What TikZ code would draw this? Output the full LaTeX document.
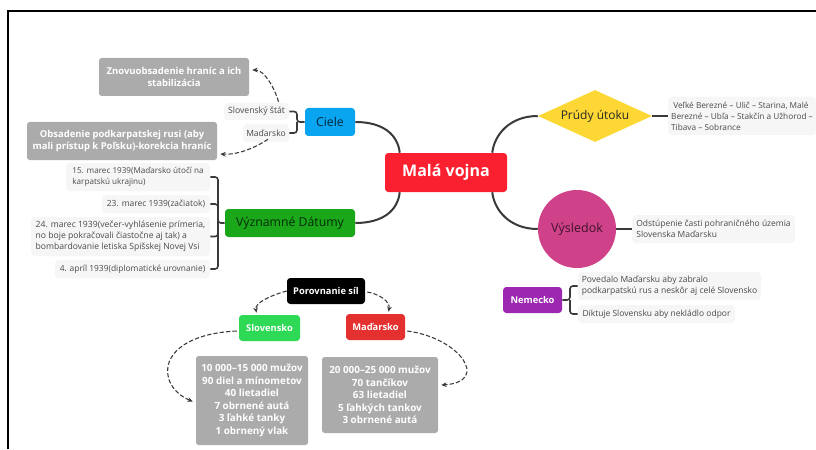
\documentclass[tikz,border=0pt]{standalone}
\usepackage{fontspec}
\setmainfont{Open Sans}
\usetikzlibrary{shapes.geometric,arrows.meta,calc}
\definecolor{cblue}{HTML}{0AA5F0}
\definecolor{cred}{HTML}{FA2030}
\definecolor{cgreen}{HTML}{1AA81A}
\definecolor{cyel}{HTML}{FDD835}
\definecolor{cpink}{HTML}{CF4289}
\definecolor{cpurp}{HTML}{9C27B0}
\definecolor{cgrn}{HTML}{2DD955}
\definecolor{cmad}{HTML}{E53030}
\definecolor{cgray}{HTML}{ABABAB}
\definecolor{clight}{HTML}{F6F6F6}
\definecolor{ctxt}{HTML}{4A4A4A}
\definecolor{cline}{HTML}{3A3A3A}
\tikzset{
  sz/.style 2 args={minimum width=#1*0.75pt,minimum height=#2*0.75pt,inner sep=0pt},
  lbox/.style={fill=clight,rounded corners=3pt,text=ctxt,font=\fontsize{#1}{8.2}\selectfont,align=left},
  gbox/.style={fill=cgray,rounded corners=2pt,text=white,font=\fontsize{#1}{9.4}\selectfont\bfseries,align=center},
  topic/.style={rounded corners=2.5pt,text=#1,font=\fontsize{9.2}{10}\selectfont},
  small/.style={rounded corners=2.5pt,text=white,font=\fontsize{7}{8}\selectfont\bfseries},
  conn/.style={line width=1.5pt,draw=cline},
  brack/.style={line width=1.2pt,draw=cline,rounded corners=2.2pt},
  dashlink/.style={line width=0.8pt,draw=cline,dash pattern=on 3.2pt off 1.6pt,-{Stealth[length=4pt,width=3.5pt]}}
}
\begin{document}
\begin{tikzpicture}[x=0.75pt,y=-0.75pt]
\useasboundingbox (0,0) rectangle (816,449);
\fill[white] (0,0) rectangle (816,449);
\draw[black,line width=1.5pt] (8,449) -- (8,11.5) -- (816,11.5);
% nodes
\node[sz={122}{39},fill=cred,rounded corners=2.5pt,text=white,font=\fontsize{12}{14}\selectfont\bfseries] (main) at (446,172.5) {Malá vojna};
\node[topic={black!75!cblue},sz={50}{28},fill=cblue] (ciele) at (330,122) {Ciele};
\node[topic={black!75!cgreen},sz={130}{28},fill=cgreen] (vyz) at (290,223) {Významné Dátumy};
\node[diamond,aspect=2.2,fill=cyel,sz={114}{52},text=black!85,font=\fontsize{9}{10}\selectfont] (prudy) at (595,116) {Prúdy útoku};
\node[circle,fill=cpink,minimum size=58.5pt,inner sep=0pt,text=black!70!cpink,font=\fontsize{9.4}{10}\selectfont] (vys) at (577,229) {Výsledok};
\node[gbox=7.1,sz={150}{38}] (zn) at (174,77) {Znovuobsadenie hraníc a ich\\stabilizácia};
\node[gbox=7.1,sz={190}{38}] (ob) at (122,141) {Obsadenie podkarpatskej rusi (aby\\mali prístup k Poľsku)-korekcia hraníc};
\node[lbox=6.5,sz={65}{17}] (sl) at (256.5,111.5) {Slovenský štát};
\node[lbox=6.4,sz={46}{18}] (ma) at (266,133) {Maďarsko};
\node[lbox=6.1,sz={144}{28}] (d1) at (138,177) {15. marec 1939(Maďarsko útočí na\\karpatskú ukrajinu)};
\node[lbox=6.35,sz={108}{18}] (d2) at (156,204) {23. marec 1939(začiatok)};
\node[lbox=6.45,sz={179}{39}] (d3) at (120.5,236.5) {24. marec 1939(večer-vyhlásenie prímeria,\\no boje pokračovali čiastočne aj tak) a\\bombardovanie letiska Spišskej Novej Vsi};
\node[lbox=6.3,sz={155}{18}] (d4) at (132.5,269) {4. apríl 1939(diplomatické urovnanie)};
\node[lbox=6.2,sz={148}{38}] (pt) at (742,116) {\ Veľké Berezné – Ulič – Starina, Malé\\Berezné – Ubľa – Stakčín a Užhorod –\\Tibava – Sobrance};
\node[lbox=6.35,sz={163}{28}] (od) at (713.5,229) {Odstúpenie časti pohraničného územia\\Slovenska Maďarsku};
\node[small,sz={59}{26},fill=cpurp] (nem) at (532.5,300) {Nemecko};
\node[lbox=6.4,sz={183}{28}] (po) at (669.5,286) {Povedalo Maďarsku aby zabralo\\podkarpatskú rus a neskôr aj celé Slovensko};
\node[lbox=6.35,sz={157}{18}] (di) at (656.5,314) {Diktuje Slovensku aby nekládlo odpor};
\node[small,sz={78}{26},fill=black] (por) at (326,291) {Porovnanie síl};
\node[small,sz={61}{26},fill=cgrn] (slo) at (269.5,328) {Slovensko};
\node[small,sz={59}{26},fill=cmad] (mad) at (375.5,327) {Maďarsko};
\node[gbox=7.4,sz={112}{89}] (gl) at (252,400.5) {10 000–15 000 mužov\\90 diel a mínometov\\40 lietadiel\\7 obrnené autá\\3 ľahké tanky\\1 obrnený vlak};
\node[gbox=7.4,sz={116}{76}] (gr) at (380,395) {20 000–25 000 mužov\\70 tančíkov\\63 lietadiel\\5 ľahkých tankov\\3 obrnené autá};
% main branches
\draw[conn] (ciele.east) .. controls +(28,0) and +(-2,-18) .. ($(main.north west)+(15,0)$);
\draw[conn] (vyz.east) .. controls +(28,0) and +(-2,18) .. ($(main.south west)+(15,0)$);
\draw[conn] (prudy.west) .. controls +(-28,0) and +(2,-18) .. ($(main.north east)+(-15,0)$);
\draw[conn] (vys.west) .. controls +(-28,0) and +(2,18) .. ($(main.south east)+(-15,0)$);
% leaf links
\draw[conn] (prudy.east) -- (pt.west);
\draw[conn] (vys.east) -- (od.west);
\coordinate (cj) at (297,122);
\draw[brack] (ciele.west) -- (cj) |- (sl.east);
\draw[brack] (cj) |- (ma.east);
\coordinate (dj) at (218,223);
\draw[brack] (vyz.west) -- (dj) |- (d1.east);
\draw[brack] (dj) |- (d4.east);
\draw[brack] (dj) |- (d2.east);
\draw[brack] (dj) |- (d3.east);
\coordinate (nj) at (570,300);
\draw[brack] (nem.east) -- (nj) |- (po.west);
\draw[brack] (nj) |- (di.west);
% dashed
\draw[dashlink] ($(sl.north)+(22,-1)$) .. controls +(-4,-14) and +(12,0) .. ($(zn.east)+(3,-7)$);
\draw[dashlink] ($(ma.south)+(2,-3)$) .. controls +(-12,8) and +(18,1) .. ($(ob.east)+(3,13)$);
\draw[dashlink] (por.west) .. controls +(-15,4) and +(-2,-10) .. ($(slo.north)+(-13,-2)$);
\draw[dashlink] ($(por.east)+(2,1)$) .. controls +(12,2) and +(2,-10) .. ($(mad.north)+(13,-2)$);
\draw[dashlink] ($(slo.west)+(-2,3)$) .. controls +(-82,4) and +(-38,-16) .. ($(gl.west)+(-3,1)$);
\draw[dashlink] ($(mad.east)+(2,4)$) .. controls +(53,7) and +(49,-3) .. ($(gr.east)+(3,-10)$);
\end{tikzpicture}
\end{document}
